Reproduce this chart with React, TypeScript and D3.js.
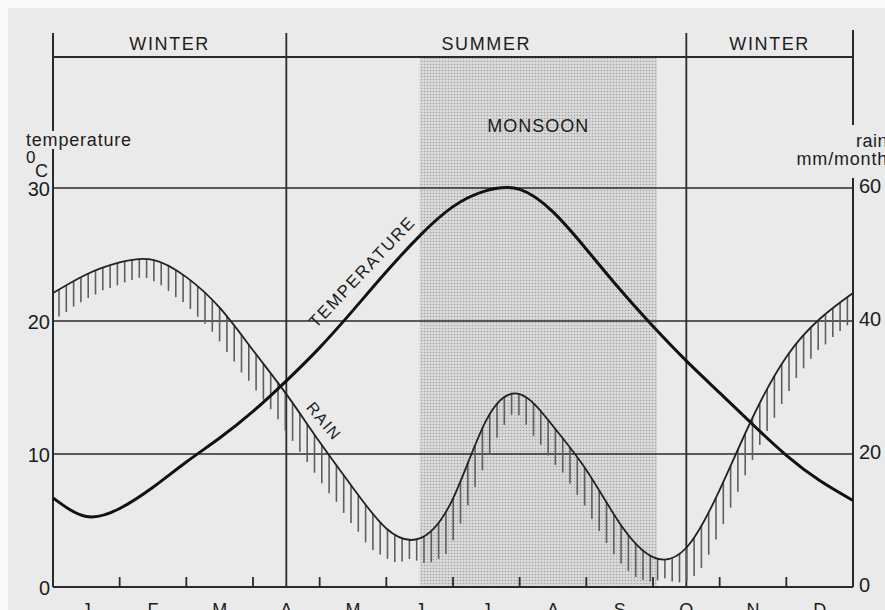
import { useEffect, useRef } from 'react'
import * as d3 from 'd3'

const W = 885
const H = 610

const months = ['J', 'F', 'M', 'A', 'M', 'J', 'J', 'A', 'S', 'O', 'N', 'D']
const seasons = ['WINTER', 'SUMMER', 'WINTER']
const seasonBounds = [0, 3.5, 9.5, 12]
const monsoon = [5.5, 9.06]
const tempTicks = [0, 10, 20, 30]
const rainTicks = [0, 20, 40, 60]

// readings every half month (0 = start of Jan, 12 = end of Dec)
const positions = [0, 0.5, 1, 1.5, 2, 2.5, 3, 3.5, 4, 4.5, 5, 5.5, 6, 6.5, 7, 7.5, 8, 8.5, 9, 9.5, 10, 10.5, 11, 11.5, 12]
const temperature = [6.7, 5.3, 5.9, 7.5, 9.4, 11.2, 13.2, 15.5, 18.0, 20.8, 23.7, 26.4, 28.6, 29.8, 29.9, 28.2, 25.4, 22.4, 19.6, 17.0, 14.6, 12.2, 9.9, 8.0, 6.5]
const rainfall = [44.2, 47.0, 48.8, 49.2, 46.6, 42.0, 35.6, 29.0, 21.8, 14.9, 8.8, 7.3, 13.3, 25.1, 29.0, 24.2, 17.6, 9.6, 4.5, 5.9, 14.6, 25.6, 34.6, 40.3, 44.2]

const FONT = '"Liberation Sans", Arial, sans-serif'
const INK = '#1c1c1c'

const App = () => {
  const ref = useRef<SVGSVGElement>(null)

  useEffect(() => {
    const svg = d3.select(ref.current)
    svg.selectAll('*').remove()

    const left = 53, right = 853, bottom = 587, header = 57, top = 33

    const x = d3.scaleLinear().domain([0, 12]).range([left, right])
    const yT = d3.scaleLinear().domain([0, 30]).range([bottom, 188])
    const yR = d3.scaleLinear().domain([0, 60]).range([bottom, 188])

    const defs = svg.append('defs')
    const pat = defs.append('pattern').attr('id', 'dots')
      .attr('width', 3).attr('height', 3).attr('patternUnits', 'userSpaceOnUse')
    pat.append('rect').attr('width', 3).attr('height', 3).attr('fill', '#dadada')
    pat.append('circle').attr('cx', 1.5).attr('cy', 1.5).attr('r', 0.8).attr('fill', '#a2a2a2')

    svg.append('rect').attr('width', W).attr('height', H).attr('fill', '#fafafa')
    svg.append('rect').attr('x', 8).attr('y', 8).attr('width', W - 8).attr('height', H - 8).attr('fill', '#eaeaea')

    // monsoon shading
    svg.append('rect')
      .attr('x', x(monsoon[0])).attr('y', header)
      .attr('width', x(monsoon[1]) - x(monsoon[0])).attr('height', bottom - header)
      .attr('fill', 'url(#dots)')

    const g = svg.append('g').attr('stroke', '#2a2a2a').attr('fill', 'none')

    // horizontal grid
    tempTicks.filter(t => t > 0).forEach(t => {
      g.append('line').attr('x1', left).attr('x2', right).attr('y1', yT(t)).attr('y2', yT(t)).attr('stroke-width', 1.6)
    })
    // header line and baseline
    g.append('line').attr('x1', left).attr('x2', right).attr('y1', header).attr('y2', header).attr('stroke-width', 1.8)
    g.append('line').attr('x1', left).attr('x2', right).attr('y1', bottom).attr('y2', bottom).attr('stroke-width', 2)

    // verticals: axes and season boundaries
    g.append('line').attr('x1', left).attr('x2', left).attr('y1', top).attr('y2', 131).attr('stroke-width', 2)
    g.append('line').attr('x1', left).attr('x2', left).attr('y1', 149).attr('y2', bottom).attr('stroke-width', 2)
    g.append('line').attr('x1', right).attr('x2', right).attr('y1', top - 3).attr('y2', 125).attr('stroke-width', 2)
    g.append('line').attr('x1', right).attr('x2', right).attr('y1', 178).attr('y2', bottom).attr('stroke-width', 2)
    seasonBounds.slice(1, -1).forEach(b => {
      g.append('line').attr('x1', x(b)).attr('x2', x(b)).attr('y1', top).attr('y2', bottom).attr('stroke-width', 1.8)
    })

    // month ticks
    d3.range(1, 12).forEach(m => {
      g.append('line').attr('x1', x(m)).attr('x2', x(m)).attr('y1', bottom).attr('y2', bottom - 10).attr('stroke-width', 1.8)
    })

    const pts = positions.map((p, i) => ({ p, t: temperature[i], r: rainfall[i] }))

    const rainLine = d3.line<{ p: number; r: number }>()
      .x(d => x(d.p)).y(d => yR(d.r)).curve(d3.curveNatural)
    const tempLine = d3.line<{ p: number; t: number }>()
      .x(d => x(d.p)).y(d => yT(d.t)).curve(d3.curveNatural)

    const hatchG = svg.append('g').attr('stroke', '#5e5e5e').attr('stroke-width', 1.6)

    const rainPath = svg.append('path')
      .attr('d', rainLine(pts) ?? '')
      .attr('fill', 'none').attr('stroke', '#222').attr('stroke-width', 1.8)

    // hatching hanging below the rain curve
    const node = rainPath.node() as SVGPathElement
    const total = node.getTotalLength()
    const samples = d3.range(0, total, 0.5).map(l => node.getPointAtLength(l))
    const bis = d3.bisector((s: DOMPoint) => s.x).center
    const yAt = (px: number) => samples[bis(samples, px)].y
    d3.range(left + 6, right - 2, 7.3).forEach(hx => {
      const y0 = yAt(hx)
      const slope = Math.abs((yAt(hx + 2) - yAt(hx - 2)) / 4)
      const len = Math.min(18 + 14 * slope, 42)
      hatchG.append('line').attr('x1', hx).attr('x2', hx).attr('y1', y0).attr('y2', y0 + len)
    })

    svg.append('path')
      .attr('d', tempLine(pts) ?? '')
      .attr('fill', 'none').attr('stroke', '#111').attr('stroke-width', 3)

    const txt = svg.append('g').attr('font-family', FONT).attr('fill', INK)

    seasons.forEach((s, i) => {
      txt.append('text').attr('x', x((seasonBounds[i] + seasonBounds[i + 1]) / 2)).attr('y', 50)
        .attr('text-anchor', 'middle').attr('font-size', 18).attr('letter-spacing', 1.6).text(s)
    })

    txt.append('text').attr('x', x((monsoon[0] + monsoon[1]) / 2)).attr('y', 132)
      .attr('text-anchor', 'middle').attr('font-size', 18).attr('letter-spacing', 1).text('MONSOON')

    txt.append('text').attr('x', 26).attr('y', 146).attr('font-size', 18).attr('letter-spacing', 0.8).text('temperature')
    txt.append('text').attr('x', 26).attr('y', 163).attr('font-size', 17).text('0')
    txt.append('text').attr('x', 35).attr('y', 177).attr('font-size', 18).text('C')

    txt.append('text').attr('x', 888).attr('y', 147).attr('text-anchor', 'end').attr('font-size', 18).attr('letter-spacing', 0.5).text('rain')
    txt.append('text').attr('x', 888).attr('y', 165).attr('text-anchor', 'end').attr('font-size', 18).attr('letter-spacing', 0.8).text('mm/month')

    tempTicks.forEach(t => {
      txt.append('text').attr('x', 50).attr('y', yT(t) + 8).attr('text-anchor', 'end').attr('font-size', 20).text(String(t))
    })
    rainTicks.forEach(r => {
      txt.append('text').attr('x', 859).attr('y', yR(r) + 5).attr('font-size', 20).text(String(r))
    })

    months.forEach((m, i) => {
      txt.append('text').attr('x', x(i + 0.5)).attr('y', 616).attr('text-anchor', 'middle').attr('font-size', 18).text(m)
    })

    txt.append('text')
      .attr('transform', `translate(${x(4.7)},${yT(23.4)}) rotate(-46.5)`)
      .attr('text-anchor', 'middle').attr('font-size', 17).attr('letter-spacing', 1.7).text('TEMPERATURE')
    txt.append('text')
      .attr('transform', `translate(${x(4.0)},${yR(24.4)}) rotate(50)`)
      .attr('text-anchor', 'middle').attr('font-size', 16).attr('letter-spacing', 1.5).text('RAIN')
  }, [])

  return <svg ref={ref} width={W} height={H} style={{ position: 'absolute', left: 0, top: 0 }} />
}

export default App
